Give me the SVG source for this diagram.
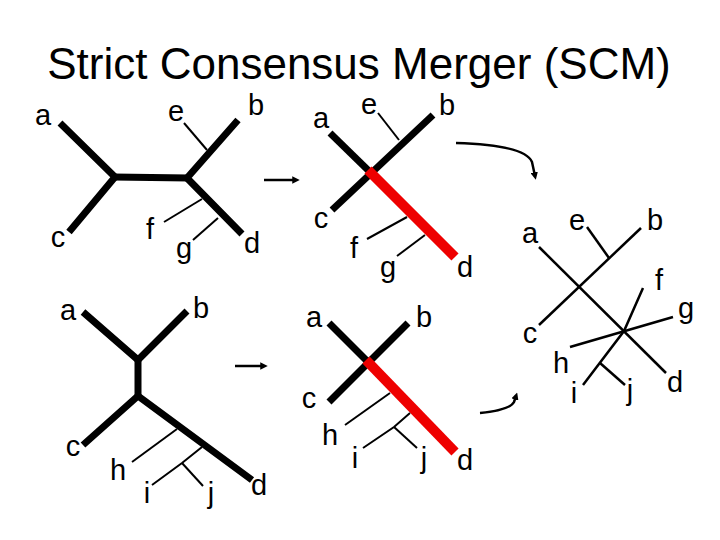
<svg xmlns="http://www.w3.org/2000/svg" width="720" height="540" viewBox="0 0 720 540">
<style>
.lbl{font-family:"Liberation Sans",Arial,sans-serif;font-size:29px;fill:#000;text-anchor:middle}
.title{font-family:"Liberation Sans",Arial,sans-serif;font-size:44px;fill:#000;text-anchor:middle}
.thick{stroke:#000;stroke-width:7;fill:none;stroke-linejoin:miter}
.red{stroke:#ee0000;stroke-width:10;fill:none}
.thin{stroke:#000;stroke-width:2;fill:none}
.mid{stroke:#000;stroke-width:2.5;fill:none}
.arr{stroke:#000;stroke-width:2.5;fill:none}
</style>
<defs>
<marker id="ah" viewBox="0 0 10 10" refX="5" refY="5" markerWidth="3" markerHeight="3" orient="auto" markerUnits="strokeWidth">
<path d="M0,0 L10,5 L0,10 z" fill="#000"/>
</marker>
</defs>
<rect width="720" height="540" fill="#fff"/>
<text class="title" x="359" y="79">Strict Consensus Merger (SCM)</text>

<g id="tree1">
<polyline class="thick" points="60,123 115,177 69,232"/>
<line class="thick" x1="113" y1="177" x2="189" y2="178"/>
<polyline class="thick" points="238,120 187,178 242,234"/>
<line class="thin" x1="184" y1="123" x2="207" y2="150"/>
<line class="thin" x1="164" y1="222" x2="202" y2="199"/>
<line class="thin" x1="193" y1="240" x2="218" y2="218"/>
<text class="lbl" x="43" y="125">a</text>
<text class="lbl" x="176" y="121">e</text>
<text class="lbl" x="256" y="115">b</text>
<text class="lbl" x="58" y="247">c</text>
<text class="lbl" x="150" y="239">f</text>
<text class="lbl" x="184" y="258">g</text>
<text class="lbl" x="252" y="253">d</text>
</g>

<g id="tree2">
<line class="thick" x1="332" y1="210" x2="433" y2="115"/>
<line class="thick" x1="330" y1="133" x2="372" y2="174"/>
<line class="red" x1="368" y1="170" x2="455" y2="257"/>
<line class="thin" x1="378" y1="113" x2="399" y2="140"/>
<line class="thin" x1="367" y1="239" x2="407" y2="217"/>
<line class="thin" x1="397" y1="256" x2="425" y2="235"/>
<text class="lbl" x="321" y="128">a</text>
<text class="lbl" x="369" y="114">e</text>
<text class="lbl" x="447" y="115">b</text>
<text class="lbl" x="321" y="228">c</text>
<text class="lbl" x="354" y="258">f</text>
<text class="lbl" x="388" y="277">g</text>
<text class="lbl" x="465" y="277">d</text>
</g>

<g id="tree3">
<line class="mid" x1="539" y1="247" x2="666" y2="373"/>
<line class="mid" x1="539" y1="325" x2="641" y2="228"/>
<line class="mid" x1="587" y1="227" x2="609" y2="258"/>
<polyline class="mid" points="643,288 624,331 583,385"/>
<line class="mid" x1="600" y1="363" x2="625" y2="385"/>
<line class="mid" x1="673" y1="317" x2="570" y2="347"/>
<text class="lbl" x="530" y="243">a</text>
<text class="lbl" x="577" y="230">e</text>
<text class="lbl" x="655" y="230">b</text>
<text class="lbl" x="659" y="290">f</text>
<text class="lbl" x="686" y="318">g</text>
<text class="lbl" x="530" y="343">c</text>
<text class="lbl" x="561" y="373">h</text>
<text class="lbl" x="574" y="403">i</text>
<text class="lbl" x="630" y="400">j</text>
<text class="lbl" x="675" y="392">d</text>
</g>

<g id="tree4">
<polyline class="thick" points="83,312 138,360 187,311"/>
<line class="thick" x1="138" y1="358" x2="138" y2="398"/>
<polyline class="thick" points="83,445 138,396 252,480"/>
<line class="thin" x1="132" y1="462" x2="177" y2="429"/>
<polyline class="thin" points="202,447 182,463 152,485"/>
<line class="thin" x1="182" y1="463" x2="203" y2="486"/>
<text class="lbl" x="68" y="320">a</text>
<text class="lbl" x="201" y="318">b</text>
<text class="lbl" x="73" y="456">c</text>
<text class="lbl" x="118" y="480">h</text>
<text class="lbl" x="147" y="503">i</text>
<text class="lbl" x="211" y="503">j</text>
<text class="lbl" x="259" y="495">d</text>
</g>

<g id="tree5">
<line class="thick" x1="329" y1="402" x2="408" y2="323"/>
<line class="thick" x1="329" y1="323" x2="370" y2="364"/>
<line class="red" x1="366" y1="360" x2="455" y2="452"/>
<line class="thin" x1="345" y1="425" x2="390" y2="393"/>
<polyline class="thin" points="410,413 394,427 363,448"/>
<line class="thin" x1="394" y1="427" x2="417" y2="448"/>
<text class="lbl" x="314" y="327">a</text>
<text class="lbl" x="424" y="327">b</text>
<text class="lbl" x="309" y="408">c</text>
<text class="lbl" x="330" y="445">h</text>
<text class="lbl" x="355" y="468">i</text>
<text class="lbl" x="424" y="468">j</text>
<text class="lbl" x="465" y="470">d</text>
</g>

<g id="connectors">
<line class="arr" x1="264" y1="180" x2="296" y2="180" marker-end="url(#ah)"/>
<line class="arr" x1="235" y1="366" x2="264" y2="366" marker-end="url(#ah)"/>
<path class="arr" d="M456,143 Q525,145 532,162 L535,176" marker-end="url(#ah)"/>
<path class="arr" d="M480,413 Q510,410 514,402 L516,396" marker-end="url(#ah)"/>
</g>
</svg>
